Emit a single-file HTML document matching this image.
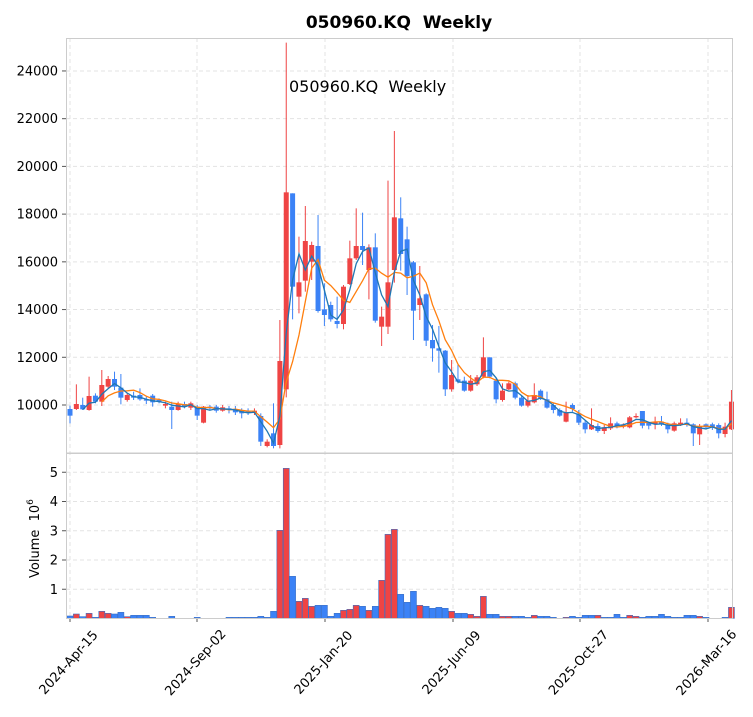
<!DOCTYPE html>
<html><head><meta charset="utf-8"><style>
html,body{margin:0;padding:0;background:#fff;}
svg text{font-family:"DejaVu Sans","Liberation Sans",sans-serif;}
</style></head><body>
<svg id="s" width="753" height="712" xmlns="http://www.w3.org/2000/svg"></svg>
<script>
const C=[
['b',1137,1157,1127,1180],['r',1122,1137,1063,1140],['b',1125,1138,1103,1140],['r',1098,1140,1040,1142],['b',1097,1115,1090,1120],
['r',1065,1115,1020,1128],['r',1047,1070,1038,1075],['b',1047,1070,1025,1080],['b',1073,1103,1032,1123],['r',1095,1110,1090,1115],
['b',1097,1103,1085,1110],['b',1095,1108,1075,1112],['b',1108,1112,1100,1122],['b',1097,1117,1092,1130],['b',1110,1115,1105,1120],
['r',1122,1127,1115,1135],['b',1130,1140,1115,1197],['r',1122,1140,1115,1142],['b',1122,1130,1115,1135],['r',1120,1133,1115,1140],
['b',1130,1157,1125,1170],['r',1130,1178,1128,1180],['b',1130,1135,1125,1140],['b',1130,1142,1125,1148],['r',1132,1142,1125,1145],
['b',1135,1140,1128,1150],['b',1137,1147,1128,1155],['b',1140,1150,1135,1165],['b',1142,1148,1135,1155],['r',1142,1148,1135,1155],
['b',1158,1235,1150,1248],['r',1235,1248,1228,1252],['b',1210,1248,1120,1255],['r',993,1245,870,1255],['r',487,1078,38,1102],
['b',490,770,490,868],['r',757,800,620,850],['r',633,752,528,785],['r',645,695,635,750],['b',648,843,555,848],
['b',838,855,760,888],['b',825,868,815,875],['b',873,882,800,895],['r',770,882,765,898],['r',685,762,632,765],
['r',648,685,535,690],['b',648,660,548,705],['r',652,720,643,808],['b',652,872,610,878],['r',860,890,830,948],
['r',757,890,452,912],['r',562,720,303,758],['b',565,672,502,722],['b',628,738,590,795],['b',697,842,693,930],
['r',805,825,708,870],['b',793,932,790,948],['b',930,955,885,995],['b',955,962,888,1028],['b',962,1078,960,1098],
['r',1035,1078,990,1085],['b',1048,1055,1005,1060],['b',1052,1082,1040,1085],['r',1052,1082,1035,1085],['r',1042,1063,1035,1068],
['r',982,1040,922,1045],['b',982,1040,982,1045],['b',1052,1108,1045,1120],['r',1082,1110,1060,1115],['r',1060,1078,1055,1080],
['b',1060,1103,1055,1108],['b',1103,1127,1098,1130],['r',1112,1127,1095,1132],['r',1095,1117,1060,1120],['b',1082,1105,1078,1110],
['b',1108,1133,1085,1136],['b',1125,1140,1120,1150],['b',1140,1157,1135,1160],['r',1148,1175,1115,1177],['b',1125,1137,1120,1145],
['b',1150,1178,1140,1185],['b',1178,1198,1170,1210],['r',1185,1198,1135,1200],['b',1188,1203,1180,1208],['r',1192,1203,1185,1212],
['r',1180,1195,1162,1200],['b',1180,1188,1175,1195],['r',1185,1190,1180,1195],['r',1162,1192,1158,1195],['r',1158,1162,1150,1165],
['b',1143,1187,1143,1195],['b',1178,1187,1175,1198],['r',1175,1183,1160,1198],['b',1175,1183,1158,1188],['b',1185,1198,1178,1210],
['r',1180,1202,1175,1205],['r',1178,1183,1165,1188],['b',1178,1182,1165,1190],['b',1183,1210,1180,1248],['r',1188,1213,1182,1245],
['b',1183,1192,1180,1195],['b',1183,1192,1178,1200],['b',1185,1210,1180,1225],['r',1190,1212,1178,1222],['r',1115,1198,1080,1200]];
const V=[['b',528],['r',522],['b',530],['r',520],['b',532],['r',514],['r',520],['b',522],['b',517],['r',530],['b',526],['b',526],['b',526],['b',532],['b',535],['b',535],['b',529],['b',535],['b',535],['b',535],['b',532],['b',535],['b',535],['b',535],['b',535],['b',532],['b',532],['b',532],['b',532],['b',532],['b',529],['b',532],['b',514],['r',271],['r',85],['b',409],['r',484],['r',475],['r',499],['b',496],['b',496],['b',529],['b',520],['r',511],['r',508],['r',496],['b',499],['r',511],['b',499],['r',421],['r',283],['r',268],['b',463],['b',487],['b',454],['r',496],['b',499],['b',505],['b',502],['b',505],['r',514],['b',520],['b',520],['r',523],['r',529],['r',469],['b',523],['b',523],['r',529],['r',529],['b',529],['b',529],['b',532],['r',526],['b',529],['b',529],['b',532],['b',535],['r',532],['b',529],['b',532],['b',526],['b',526],['r',526],['b',532],['b',532],['b',523],['b',532],['r',526],['r',529],['b',532],['b',529],['b',529],['b',523],['b',529],['b',532],['b',532],['b',526],['b',526],['r',529],['b',532],['b',535],['b',535],['b',532],['r',502]];
const s=document.getElementById('s');let h='';
const X=i=>70+6.36*i, Y=z=>z/3+30, VY=z=>440+z/3;
const RED='#ef4444',BLUE='#3b82f6',G='#e3e3e3';
[24000,22000,20000,18000,16000,14000,12000,10000].forEach(p=>{const y=405-(p-10000)*0.02386;
h+=`<line x1="66" x2="733" y1="${y}" y2="${y}" stroke="${G}" stroke-dasharray="4,3"/>`;
h+=`<line x1="62" x2="66" y1="${y}" y2="${y}" stroke="#555"/><text x="58" y="${y+4.5}" font-size="13" text-anchor="end">${p}</text>`;});
[1,2,3,4,5].forEach(v=>{const y=618.5-v*29.25;
h+=`<line x1="66" x2="733" y1="${y}" y2="${y}" stroke="${G}" stroke-dasharray="4,3"/>`;
h+=`<line x1="62" x2="66" y1="${y}" y2="${y}" stroke="#555"/><text x="58" y="${y+4.5}" font-size="13" text-anchor="end">${v}</text>`;});
const xt=[[70,'2024-Apr-15'],[197,'2024-Sep-02'],[325,'2025-Jan-20'],[453,'2025-Jun-09'],[580,'2025-Oct-27'],[708,'2026-Mar-16']];
xt.forEach(([x,t])=>{h+=`<line x1="${x}" x2="${x}" y1="38" y2="618" stroke="${G}" stroke-dasharray="4,3"/>`;
h+=`<line x1="${x}" x2="${x}" y1="618" y2="622" stroke="#555"/>`;
h+=`<text transform="translate(${x-1},${663}) rotate(-48)" font-size="13" text-anchor="middle" dominant-baseline="central">${t}</text>`;});
C.forEach((c,i)=>{const x=X(i),col=c[0]=='r'?RED:BLUE;
h+=`<line x1="${x}" x2="${x}" y1="${Y(c[3])}" y2="${Y(c[4])}" stroke="${col}" stroke-width="1"/>`;
h+=`<rect x="${x-2.5}" y="${Y(c[1])}" width="5" height="${Math.max(1,Y(c[2])-Y(c[1]))}" fill="${col}"/>`;});
const cl=C.map(c=>c[0]=='r'?Y(c[1]):Y(c[2]));
function ma(n){let p=[];for(let i=n-1;i<cl.length;i++){let s=0;for(let j=0;j<n;j++)s+=cl[i-j];p.push(X(i).toFixed(1)+','+(s/n).toFixed(1));}return p.join(' ');}
h+=`<polyline points="${ma(6)}" fill="none" stroke="#ff7f0e" stroke-width="1.3"/>`;
h+=`<polyline points="${ma(3)}" fill="none" stroke="#1f77b4" stroke-width="1.3"/>`;
V.forEach((v,i)=>{if(v[1]>=534)return;const x=X(i);
h+=`<rect x="${x-3}" y="${VY(v[1])}" width="6" height="${618.3-VY(v[1])}" fill="${v[0]=='r'?RED:BLUE}" stroke="#3b6fc4" stroke-width="0.6"/>`;});
h+=`<rect x="66.5" y="38.5" width="666" height="414.5" fill="none" stroke="#ccc"/>`;
h+=`<rect x="66.5" y="453.5" width="666" height="165" fill="none" stroke="#ccc"/>`;
h+=`<text x="399" y="28" font-size="17" font-weight="bold" text-anchor="middle" xml:space="preserve">050960.KQ  Weekly</text>`;
h+=`<text x="289" y="92" font-size="16" xml:space="preserve">050960.KQ  Weekly</text>`;
h+=`<text transform="translate(39,578) rotate(-90)" font-size="13" xml:space="preserve">Volume  10<tspan dy="-6" font-size="9">6</tspan></text>`;
s.innerHTML=h;
</script>
</body></html>
